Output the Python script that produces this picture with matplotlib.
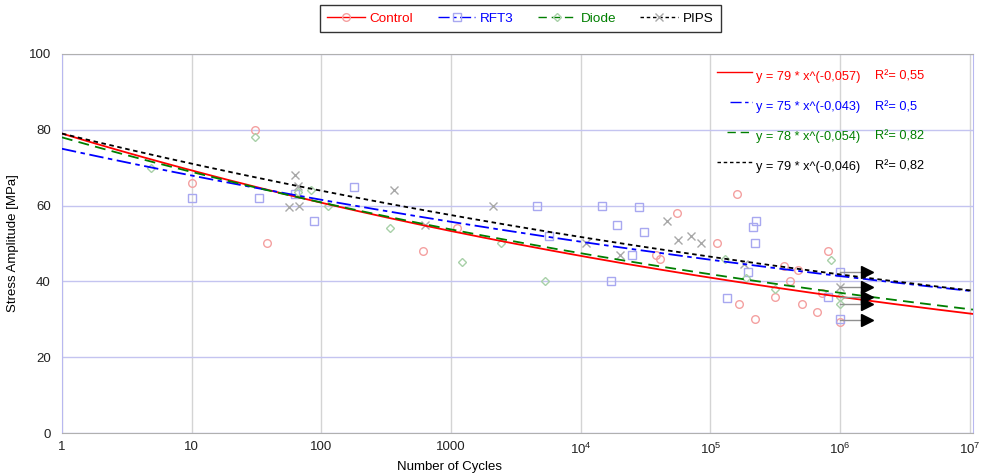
import numpy as np
import matplotlib
matplotlib.use("Agg")
import matplotlib.pyplot as plt
from matplotlib.lines import Line2D

plt.rcParams['font.family'] = ['Liberation Sans', 'DejaVu Sans']
plt.rcParams['mathtext.fontset'] = 'custom'
plt.rcParams['mathtext.rm'] = 'Liberation Sans'
plt.rcParams['mathtext.it'] = 'Liberation Sans'
plt.rcParams['mathtext.default'] = 'regular'

# measured points (cycles, stress amplitude MPa)
control_n = [10, 31, 38, 610, 1120, 38000, 41000, 55000, 113000, 160000, 166000,
             220000, 314000, 370000, 415000, 475000, 508000, 670000, 720000, 810000, 1e6]
control_s = [66, 80, 50, 48, 54, 47, 46, 58, 50, 63, 34,
             30, 36, 44, 40, 43, 34, 32, 37, 48, 29.4]

rft3_n = [10, 33, 63, 88, 178, 4600, 5700, 14500, 17000, 19000, 25000, 28000, 31000,
          135000, 196000, 215000, 225000, 220000, 810000, 1e6, 1e6]
rft3_s = [62, 62, 63, 56, 65, 60, 52, 60, 40, 55, 47, 59.5, 53,
          35.5, 42.5, 54.3, 56, 50, 36, 42.4, 30.2]

diode_n = [4.9, 31, 66, 83, 112, 336, 1210, 2440, 5300, 130000, 188000, 314000,
           845000, 1e6, 1e6]
diode_s = [70, 78, 63.7, 64, 60, 54, 45, 50, 40, 46, 41, 38, 45.6, 35.9, 34.0]

pips_n = [56, 63, 66, 67, 363, 630, 2100, 11000, 20000, 46000, 56000, 71000, 85000,
          182000, 1e6]
pips_s = [59.5, 68, 65.2, 60, 64, 55, 60, 50, 47, 56, 51, 52, 50, 44.5, 38.4]

# run-outs (arrows) at 1e6 cycles
runout_n = [1e6, 1e6, 1e6, 1e6, 1e6]
runout_s = [42.4, 38.4, 35.9, 34.0, 29.8]

# power-law fits y = a * x^b, as printed on the chart
labels = ['Control', 'RFT3', 'Diode', 'PIPS']
fit_a = [79, 75, 78, 79]
fit_b = [-0.057, -0.043, -0.054, -0.046]
fit_a_txt = ['79', '75', '78', '79']
fit_b_txt = ['-0,057', '-0,043', '-0,054', '-0,046']
r2_txt = ['0,55', '0,5', '0,82', '0,82']

line_colors = ['#ff0000', '#0000ff', '#007f00', '#000000']
marker_colors = ['#f4a0a0', '#a8a8f0', '#a8d0a8', '#a8a8a8']
markers = ['o', 's', 'D', 'x']
marker_sizes = [5.5, 5.5, 4.2, 5.5]
dash_styles = ['-', (0, (8, 2.5, 2.5, 2.5)), (0, (6, 3.5)), (0, (2.5, 2))]

fig = plt.figure(figsize=(9.82, 4.76), dpi=100)
ax = fig.add_axes([0.0631, 0.0903, 0.9277, 0.7963])

series = [(control_n, control_s), (rft3_n, rft3_s), (diode_n, diode_s), (pips_n, pips_s)]
for (n, s), m, mc, ms in zip(series, markers, marker_colors, marker_sizes):
    if m == 'x':
        ax.plot(n, s, linestyle='none', marker=m, color=mc, ms=ms, mew=1.0, zorder=3)
    else:
        ax.plot(n, s, linestyle='none', marker=m, mfc='none', mec=mc, ms=ms, mew=1.0, zorder=3)

xfit = np.logspace(0, np.log10(1.06e7), 200)
for a, b, c, ls in zip(fit_a, fit_b, line_colors, dash_styles):
    ax.plot(xfit, a * xfit ** b, color=c, linestyle=ls, lw=1.3, zorder=4)

# run-out arrows
for n, s in zip(runout_n, runout_s):
    ax.plot([n, n * 1.5], [s, s], color='#909090', lw=1.0, zorder=5)
    ax.plot(n * 1.62, s, marker='>', color='black', ms=8.5, zorder=6)

ax.set_xscale('log')
ax.set_xlim(1, 1.06e7)
ax.set_ylim(0, 100)
xt = [1, 10, 100, 1000, 1e4, 1e5, 1e6, 1e7]
xtl = ['1', '10', '100', '1000', '$10^4$', '$10^5$', '$10^6$', '$10^7$']
ax.set_xticks(xt)
ax.set_xticklabels(xtl)
ax.xaxis.set_minor_locator(matplotlib.ticker.NullLocator())
ax.set_yticks([0, 20, 40, 60, 80, 100])
ax.tick_params(length=0, labelsize=9.5, colors='#222222')
ax.tick_params(axis='y', pad=8)
ax.tick_params(axis='x', pad=6)

ax.xaxis.grid(True, color='#d4d4d4', lw=1.0)
ax.yaxis.grid(True, color='#c4c4f0', lw=1.0)
ax.set_axisbelow(True)
for side in ['left', 'right']:
    ax.spines[side].set_color('#b8b8f0')
for side in ['top', 'bottom']:
    ax.spines[side].set_color('#b0b0b0')

ax.set_ylabel('Stress Amplitude [MPa]', fontsize=9.5, labelpad=7)
ax.set_xlabel('Number of Cycles', fontsize=9.5)
ax.xaxis.set_label_coords(0.425, -0.073)

# fit equations, top right
eq_y = [0.940, 0.859, 0.782, 0.702]
line_x0 = [0.719, 0.733, 0.730, 0.719]
for i in range(4):
    y = eq_y[i]
    ax.plot([line_x0[i], 0.757], [y + 0.013, y + 0.013], transform=ax.transAxes,
            color=line_colors[i], linestyle=dash_styles[i], lw=1.0, clip_on=False)
    ax.text(0.762, y, f'y = {fit_a_txt[i]} * x^({fit_b_txt[i]})', transform=ax.transAxes,
            color=line_colors[i], fontsize=9.2, va='center')
    ax.text(0.893, y, f'R²= {r2_txt[i]}', transform=ax.transAxes,
            color=line_colors[i], fontsize=9.2, va='center')

handles = [Line2D([0], [0], color=c, linestyle=ls, lw=1.0, marker=m, ms=ms,
                  mfc='none', mec=mc)
           for c, ls, m, mc, ms in zip(line_colors, dash_styles, markers, marker_colors, marker_sizes)]
leg = fig.legend(handles, labels, loc='center', bbox_to_anchor=(0.530, 0.961), ncol=4,
                 fontsize=9.7, frameon=True, fancybox=False, edgecolor='black',
                 handlelength=2.8, columnspacing=1.8, handletextpad=0.35,
                 borderpad=0.55, borderaxespad=0)
leg.get_frame().set_linewidth(1.0)
for t, c in zip(leg.get_texts(), line_colors):
    t.set_color(c)

fig.savefig('out.png', dpi=100)
